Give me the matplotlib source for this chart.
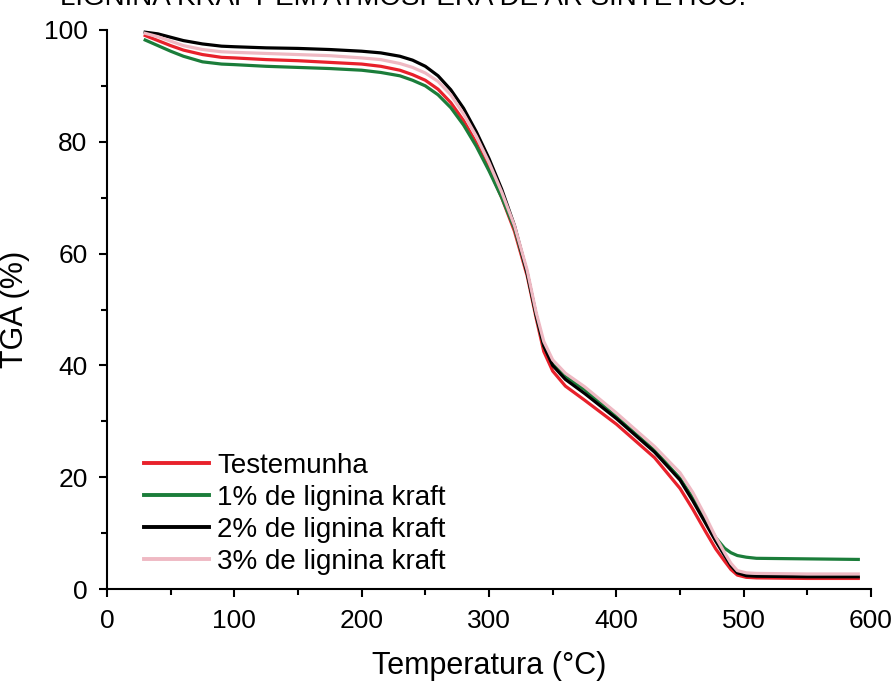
import matplotlib
matplotlib.use("Agg")
import matplotlib.pyplot as plt
from matplotlib.ticker import MultipleLocator

plt.rcParams['font.family'] = ['Liberation Sans', 'DejaVu Sans']

# temperatura (°C) e perda de massa (%) para cada amostra
temp = [30, 40, 50, 60, 75, 90, 100, 125, 150, 175, 200, 215, 230, 240, 250,
        260, 270, 280, 290, 300, 310, 320, 330, 337, 343, 350, 360, 375, 400,
        430, 450, 460, 470, 478, 485, 490, 495, 502, 510, 550, 590]

tga_testemunha = [99.0, 98.1, 97.2, 96.4, 95.6, 95.1, 95.0, 94.7, 94.5, 94.2,
                  93.9, 93.5, 92.8, 92.0, 91.0, 89.4, 87.0, 83.8, 79.8, 75.2,
                  70.0, 64.0, 56.0, 48.5, 42.5, 39.0, 36.3, 33.8, 29.5, 23.5,
                  18.0, 14.3, 10.3, 7.2, 5.0, 3.5, 2.5, 2.1, 2.0, 1.9, 1.9]
tga_1pct = [98.2, 97.2, 96.2, 95.3, 94.3, 93.9, 93.8, 93.5, 93.3, 93.1,
            92.8, 92.4, 91.8, 91.0, 90.0, 88.4, 86.1, 83.0, 79.2, 74.8,
            70.0, 64.5, 56.5, 49.0, 43.5, 40.2, 38.0, 35.7, 30.8, 24.8,
            19.8, 16.3, 12.3, 9.2, 7.3, 6.5, 6.0, 5.7, 5.5, 5.4, 5.3]
tga_2pct = [99.6, 99.3, 98.7, 98.1, 97.5, 97.1, 97.0, 96.8, 96.7, 96.5,
            96.2, 95.9, 95.3, 94.6, 93.5, 91.8, 89.3, 86.0, 81.8, 77.0,
            71.5, 65.0, 56.5, 49.0, 43.5, 40.0, 37.5, 35.0, 30.5, 24.5,
            19.5, 15.8, 11.8, 8.6, 6.0, 4.2, 2.9, 2.4, 2.3, 2.2, 2.2]
tga_3pct = [99.4, 98.8, 98.0, 97.2, 96.5, 96.1, 96.0, 95.8, 95.6, 95.4,
            95.0, 94.7, 94.0, 93.3, 92.3, 90.8, 88.4, 85.0, 81.0, 76.3,
            71.0, 65.0, 57.0, 49.5, 44.3, 41.0, 38.6, 36.2, 31.5, 25.5,
            20.8, 17.3, 13.0, 9.3, 6.5, 4.6, 3.3, 2.9, 2.8, 2.7, 2.7]

labels = ['Testemunha', '1% de lignina kraft', '2% de lignina kraft', '3% de lignina kraft']
colors = ['#e8212b', '#1b7d3a', '#000000', '#efb9c3']

fig = plt.figure(figsize=(8.93, 6.81), dpi=100)
ax = fig.add_axes([0.1198, 0.135, 0.8556, 0.821])

for y, lab, c in zip([tga_testemunha, tga_1pct, tga_2pct, tga_3pct], labels, colors):
    ax.plot(temp, y, color=c, linewidth=2.3, label=lab, solid_joinstyle='round')

ax.set_xlim(0, 600)
ax.set_ylim(0, 100)
ax.xaxis.set_major_locator(MultipleLocator(100))
ax.xaxis.set_minor_locator(MultipleLocator(50))
ax.yaxis.set_major_locator(MultipleLocator(20))
ax.yaxis.set_minor_locator(MultipleLocator(10))

for s in ['top', 'right']:
    ax.spines[s].set_visible(False)
for s in ['left', 'bottom']:
    ax.spines[s].set_linewidth(1.5)
    ax.spines[s].set_clip_on(False)

ax.tick_params(which='major', direction='out', length=6, width=1.5, labelsize=19, pad=8)
ax.tick_params(which='minor', direction='out', length=4.5, width=1.5)

ax.set_xlabel('Temperatura (°C)', fontsize=22, labelpad=13)
ax.set_ylabel('TGA (%)', fontsize=22, labelpad=10)

leg = ax.legend(loc='lower left', bbox_to_anchor=(0.03, 0.0), frameon=False, fontsize=20,
                handlelength=2.35, handletextpad=0.3, labelspacing=0.22, borderaxespad=0.1)
for h in leg.get_lines():
    h.set_linewidth(2.8)

# legenda da figura (cortada na borda superior)
fig.text(0.067, 0.993, 'LIGNINA KRAFT EM ATMOSFERA DE AR SINTÉTICO.', fontsize=20,
         ha='left', va='baseline')

fig.savefig('out.png', dpi=100)
